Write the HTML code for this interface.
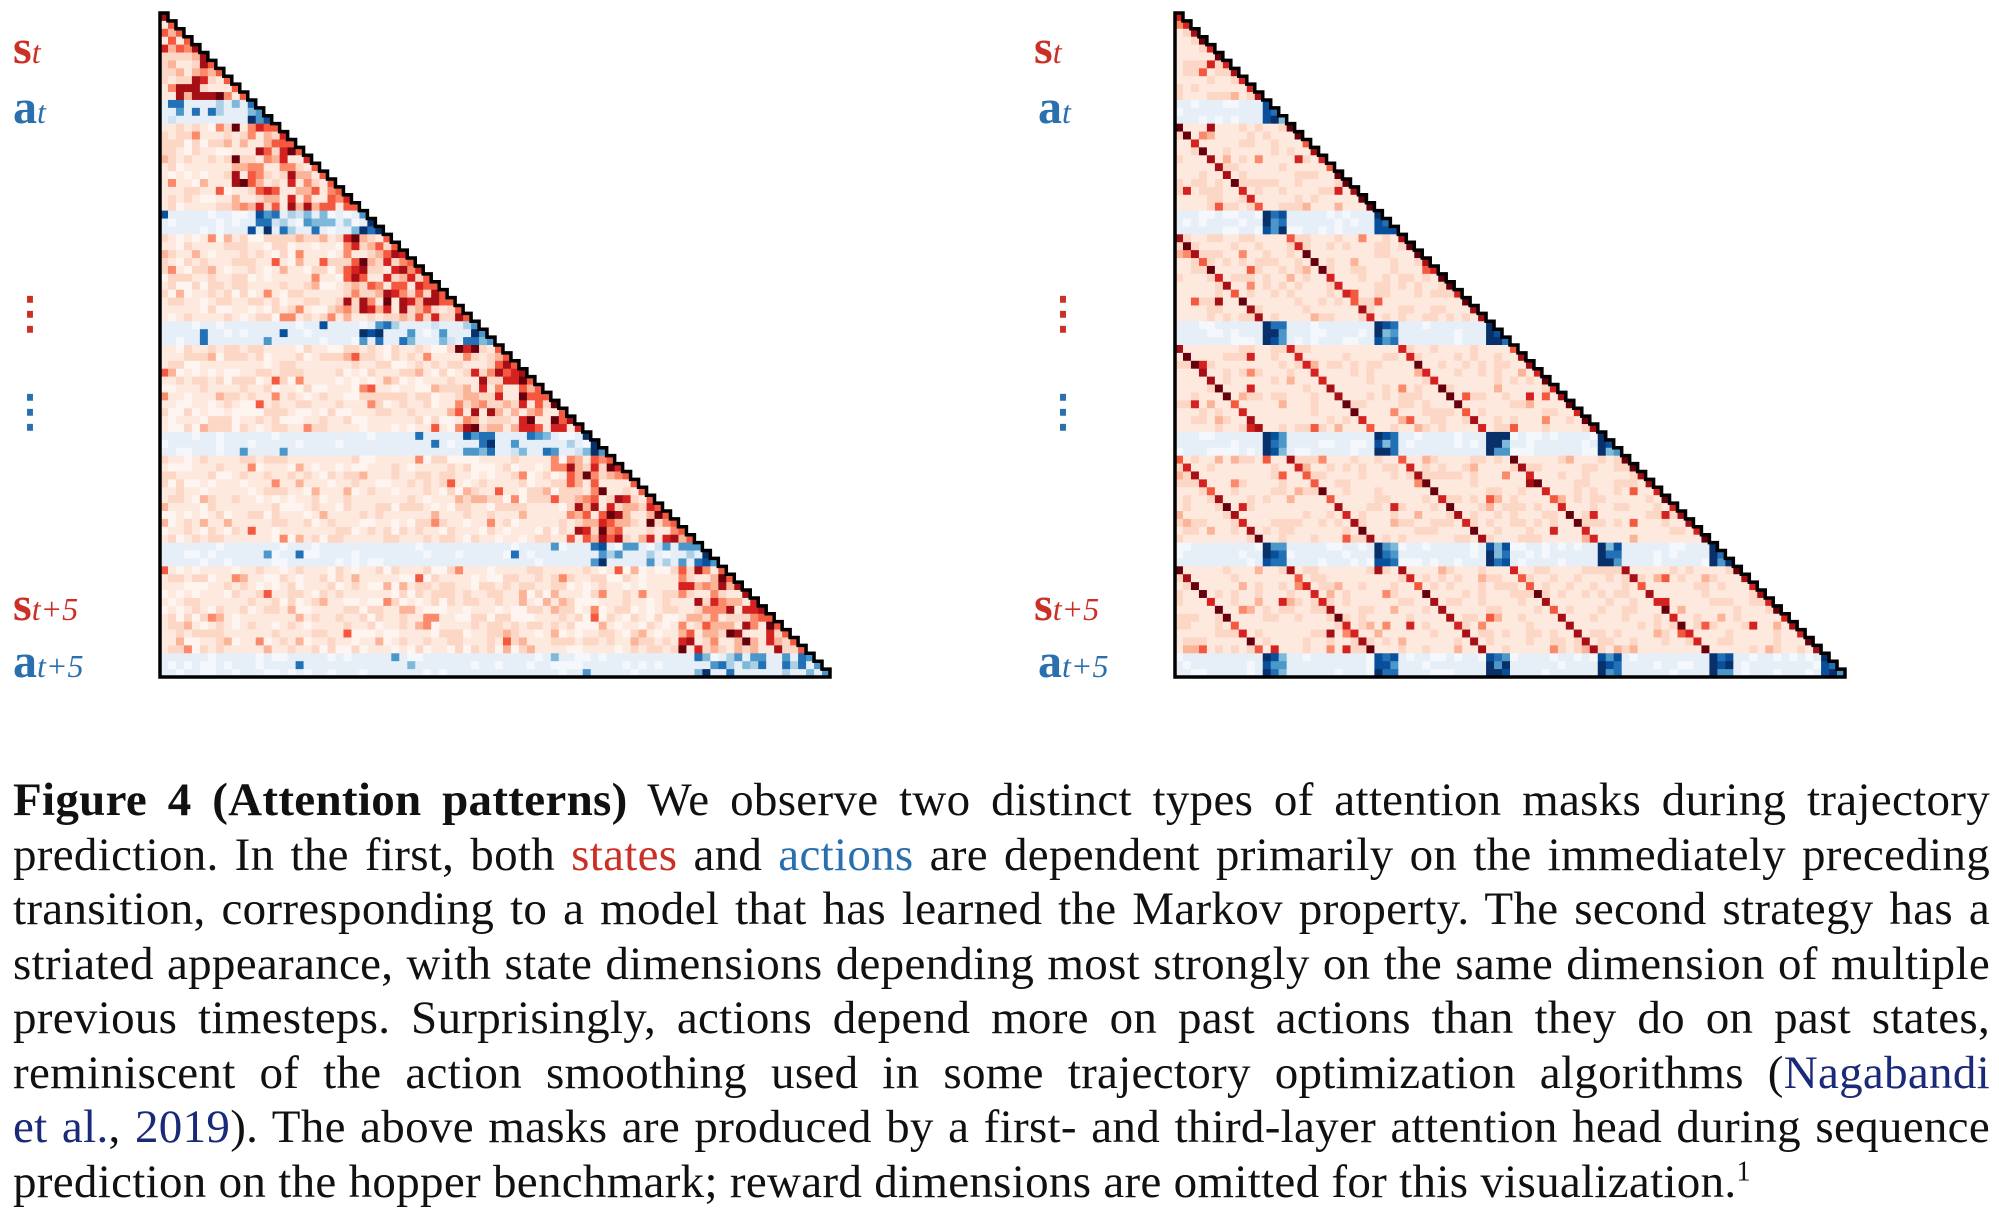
<!DOCTYPE html>
<html><head><meta charset="utf-8">
<style>
body{margin:0;background:#fff;width:1999px;height:1219px;overflow:hidden;position:relative;font-family:"Liberation Serif",serif}
.lab{position:absolute;font-weight:bold;font-size:48px;line-height:1}
.lab i{font-weight:normal;font-size:32px;font-style:italic}
.r{color:#cb3027}.b{color:#2a6fae}
.dots{position:absolute;font-size:44px;font-weight:bold;line-height:1}
#cap{position:absolute;left:13px;top:773px;width:1977px;font-size:47px;letter-spacing:0.3px;line-height:54.5px;color:#111}
#cap div{text-align:justify;text-align-last:justify;white-space:nowrap}
#cap div.last{text-align-last:left}
#cap b{font-weight:bold}
.nv{color:#1a2a78}
</style></head><body>
<svg id="sv" width="1999" height="700" style="position:absolute;left:0;top:0"></svg>

<div class="lab r" style="left:13px;top:24px">s<i>t</i></div>
<div class="lab b" style="left:13px;top:84px">a<i>t</i></div>
<div class="dots r" style="left:8px;top:292px">⋮</div>
<div class="dots b" style="left:8px;top:390px">⋮</div>
<div class="lab r" style="left:13px;top:581px">s<i>t+5</i></div>
<div class="lab b" style="left:13px;top:638px">a<i>t+5</i></div>

<div class="lab r" style="left:1034px;top:24px">s<i>t</i></div>
<div class="lab b" style="left:1038px;top:84px">a<i>t</i></div>
<div class="dots r" style="left:1041px;top:292px">⋮</div>
<div class="dots b" style="left:1041px;top:390px">⋮</div>
<div class="lab r" style="left:1034px;top:581px">s<i>t+5</i></div>
<div class="lab b" style="left:1038px;top:638px">a<i>t+5</i></div>

<div id="cap">
<div><b>Figure 4 (Attention patterns)</b> We observe two distinct types of attention masks during trajectory</div>
<div>prediction. In the first, both <span class="r">states</span> and <span class="b">actions</span> are dependent primarily on the immediately preceding</div>
<div>transition, corresponding to a model that has learned the Markov property. The second strategy has a</div>
<div>striated appearance, with state dimensions depending most strongly on the same dimension of multiple</div>
<div>previous timesteps. Surprisingly, actions depend more on past actions than they do on past states,</div>
<div>reminiscent of the action smoothing used in some trajectory optimization algorithms (<span class="nv">Nagabandi</span></div>
<div><span class="nv">et al.</span>, <span class="nv">2019</span>). The above masks are produced by a first- and third-layer attention head during sequence</div>
<div class="last">prediction on the hopper benchmark; reward dimensions are omitted for this visualization.<sup style="font-size:28px;line-height:0">1</sup></div>
</div>

<script>
var sv=document.getElementById('sv');
var N=84,P=14,S=11,top0=13,H=664,W=670;
var seed=7;function rnd(){seed=(seed*16807)%2147483647;return seed/2147483647;}
var reds=['#fff5f0','#fee9df','#fdd7c6','#fcb499','#fb8a6a','#f4593f','#d52221','#a50f15','#67000d'];
var blues=['#f4f8fd','#e6eff8','#cfe1f2','#abd0e6','#7fb9da','#4c97c9','#2270b6','#08509b','#08306b'];
function col(isA,v){v=Math.max(0,Math.min(8,Math.round(v)));return (isA?blues:reds)[v];}
function draw(x0,mode){
  var cw=W/N,ch=H/N,s='';
  for(var i=0;i<N;i++){
    var isA=(i%P)>=S, blk=Math.floor(i/P);
    for(var j=0;j<=i;j++){
      var v,jb=Math.floor(j/P),jA=(j%P)>=S;
      if(mode==0){
        var d=i-j,r=rnd();
        v=(blk<1?1.2:0.4)+r*r*2.2;
        if(!isA){ if(jb>=blk-1 && j>=blk*P-5){var q=rnd();v=1+q*q*7.5;} else if(rnd()<0.05)v=2+rnd()*3;}
        else { v=0.3+rnd()*1.2; if(jb>=blk-1 && jA && j>=blk*P-3 && rnd()<0.7)v=3+rnd()*5.5; else if(jb==blk && rnd()<0.3)v=2+rnd()*4; if(rnd()<0.03)v=4+rnd()*3;}
        if(d==0)v=Math.max(v,5);
      } else {
        var r2=rnd();v=0.6+r2*r2*2;
        if(!isA){ if((i-j)%P==0)v=5+rnd()*3.5; else if(rnd()<0.03)v=3+rnd()*4; }
        else { v=0.3+rnd()*0.8; if(jA){v=4+rnd()*4; if((j%P)==S)v=7+rnd()*2;} }
      }
      s+='<rect x="'+(x0+j*cw).toFixed(2)+'" y="'+(top0+i*ch).toFixed(2)+'" width="'+(cw+0.6).toFixed(2)+'" height="'+(ch+0.6).toFixed(2)+'" fill="'+col(isA,v)+'"/>';
    }
  }
  var p='M'+x0+' '+top0;
  for(var k=0;k<N;k++){p+=' L'+(x0+(k+1)*cw).toFixed(2)+' '+(top0+k*ch).toFixed(2)+' L'+(x0+(k+1)*cw).toFixed(2)+' '+(top0+(k+1)*ch).toFixed(2);}
  p+=' L'+x0+' '+(top0+H)+' Z';
  s+='<path d="'+p+'" fill="none" stroke="#000" stroke-width="3.5" stroke-linejoin="miter"/>';
  return s;
}
sv.innerHTML=draw(160,0)+draw(1175,1);
</script>
</body></html>
